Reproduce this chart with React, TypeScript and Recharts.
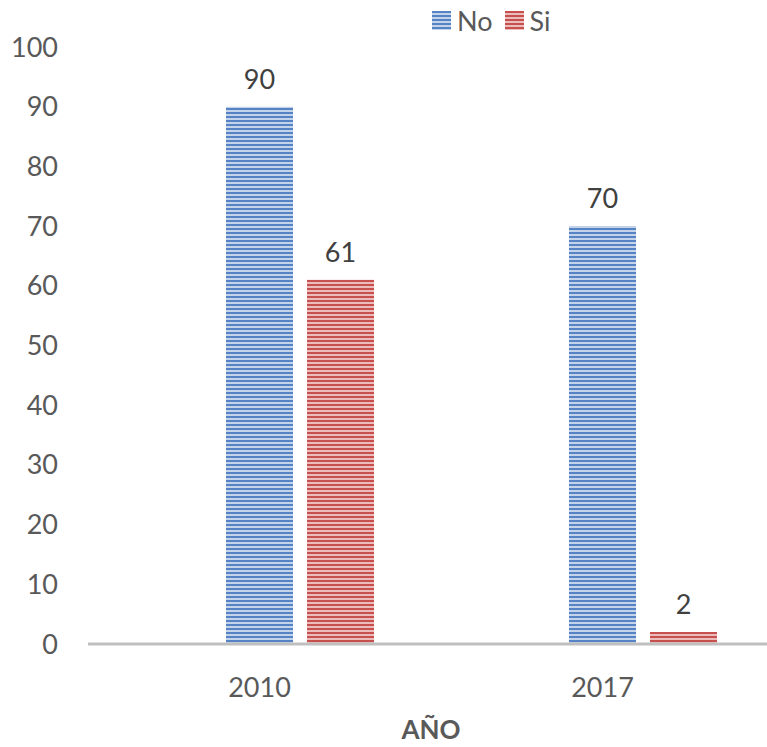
import { Bar, BarChart, LabelList, XAxis, YAxis } from 'recharts';

const years = ['2010', '2017'];
const noValues = [90, 70];
const siValues = [61, 2];
const yTicks = [0, 10, 20, 30, 40, 50, 60, 70, 80, 90, 100];

const font = 'Lato, "Liberation Sans", sans-serif';

// el hueco vacío a la izquierda centra cada año bajo la barra "No"
const rows = years.map((year, i) => ({ year, hueco: 0, No: noValues[i], Si: siValues[i] }));

const legendItems = [
    { name: 'No', light: '#c3d3ea', dark: '#5583c3' },
    { name: 'Si', light: '#ebbcbb', dark: '#c5504e' },
];

function LegendItems() {
    return (
        <div
            style={{
                position: 'absolute',
                left: 432,
                top: 4,
                display: 'flex',
                gap: 12,
                fontFamily: font,
                fontSize: 27,
                color: '#595959',
            }}
        >
            {legendItems.map((it) => (
                <span key={it.name} style={{ display: 'flex', alignItems: 'center', gap: 6 }}>
                    <span
                        style={{
                            width: 19,
                            height: 19,
                            background: `repeating-linear-gradient(${it.dark} 0 2px, ${it.light} 2px 4px)`,
                        }}
                    />
                    {it.name}
                </span>
            ))}
        </div>
    );
}

export default function App() {
    return (
        <div style={{ position: 'absolute', left: 0, top: 0, width: 767, height: 747, overflow: 'hidden', background: '#fff' }}>
            <BarChart
                width={790}
                height={747}
                data={rows}
                margin={{ top: 47, right: 16, bottom: 0, left: 0 }}
                barSize={67}
                barGap={14}
            >
                <defs>
                    <pattern id="rayasAzul" width={4} height={4} patternUnits="userSpaceOnUse">
                        <rect width={4} height={4} fill="#c3d3ea" />
                        <rect width={4} height={2} fill="#5583c3" />
                    </pattern>
                    <pattern id="rayasRojo" width={4} height={4} patternUnits="userSpaceOnUse">
                        <rect width={4} height={4} fill="#ebbcbb" />
                        <rect width={4} height={2} fill="#c5504e" />
                    </pattern>
                </defs>
                <XAxis
                    dataKey="year"
                    height={103}
                    tickLine={false}
                    axisLine={{ stroke: '#bfbfbf', strokeWidth: 3 }}
                    tick={{ fontSize: 27, fill: '#595959', fontFamily: font }}
                    tickMargin={28}
                    label={{
                        value: 'AÑO',
                        position: 'insideBottom',
                        offset: 8,
                        fontSize: 26,
                        fontWeight: 'bold',
                        fill: '#595959',
                        fontFamily: font,
                    }}
                />
                <YAxis
                    width={88}
                    domain={[0, 100]}
                    ticks={yTicks}
                    interval={0}
                    axisLine={false}
                    tickLine={false}
                    tickMargin={24}
                    tick={{ fontSize: 27, fill: '#595959', fontFamily: font }}
                />
                <Bar dataKey="hueco" fill="transparent" legendType="none" isAnimationActive={false} />
                <Bar dataKey="No" fill="url(#rayasAzul)" isAnimationActive={false}>
                    <LabelList dataKey="No" position="top" offset={18} fontSize={27} fill="#404040" fontFamily={font} />
                </Bar>
                <Bar dataKey="Si" fill="url(#rayasRojo)" isAnimationActive={false}>
                    <LabelList dataKey="Si" position="top" offset={18} fontSize={27} fill="#404040" fontFamily={font} />
                </Bar>
            </BarChart>
            <LegendItems />
        </div>
    );
}
